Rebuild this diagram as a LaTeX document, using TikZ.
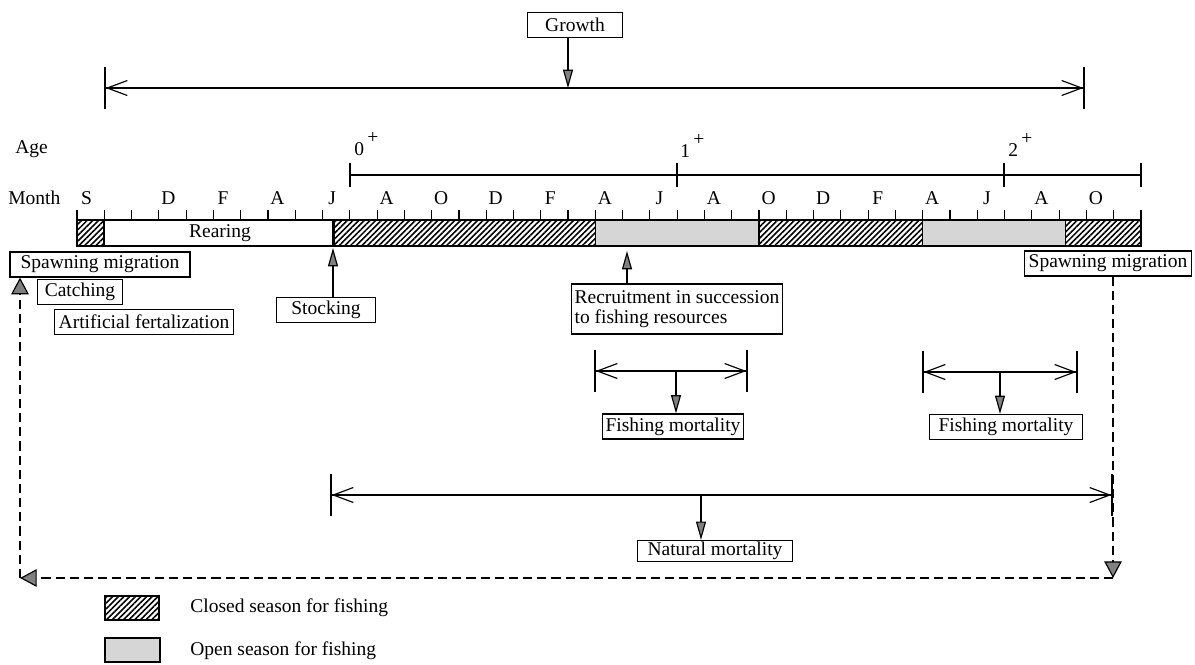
\documentclass[tikz,border=0pt]{standalone}
\usepackage{fontspec}
\setmainfont{Liberation Serif}
\usetikzlibrary{arrows.meta,patterns.meta}

\tikzset{
  lbl/.style={draw,line width=0.7pt,inner sep=2pt,minimum height=15pt},
  tri/.style={line width=0.7pt,-{Triangle[length=11pt,width=6pt,fill=black!50]}},
  bigtri/.style={-{Triangle[length=10pt,width=10.5pt,fill=black!50,line width=0.7pt]}},
  span/.style={line width=0.7pt,{Bar[width=25pt,line width=1pt]Straight Barb[length=12pt,width=9pt,line width=0.7pt]}-{Straight Barb[length=12pt,width=9pt,line width=0.7pt]Bar[width=25pt,line width=1pt]}},
  loopline/.style={line width=0.8pt,dash pattern=on 5.5pt off 3pt},
  closed/.style={pattern={Lines[angle=45,distance=2.4pt,line width=0.95pt]}},
  open/.style={fill=gray!32}
}

\begin{document}
\begin{tikzpicture}[x=0.6pt,y=-0.6pt,font=\fontsize{11.7}{12}\selectfont]

  \useasboundingbox (0,0) rectangle (1195,664);
  \def\m{27.28}

  \node[anchor=base west,inner sep=0] (age) at (15,153) {Age};
  \node[anchor=base west,inner sep=0] (month) at (8,204) {Month};

  \draw[line width=0.8pt] (350,175) -- (1141,175);
  \foreach \x in {350,677,1004,1141}
  {
    \draw[line width=0.8pt] (\x,163) -- (\x,187);
  }
  \node[anchor=base west,inner sep=0] (age0) at (354,155) {0\,\raisebox{7pt}{+}};
  \node[anchor=base west,inner sep=0] (age1) at (680,157) {1\,\raisebox{7pt}{+}};
  \node[anchor=base west,inner sep=0] (age2) at (1008,156) {2\,\raisebox{7pt}{+}};

  \foreach \i/\t in {0/S,3/D,5/F,7/A,9/J,11/A,13/O,15/D,17/F,19/A,21/J,23/A,25/O,27/D,29/F,31/A,33/J,35/A,37/O}
  {
    \node[anchor=base,inner sep=0] (m\i) at (77+\i*\m+0.35*\m,204) {\t};
  }
  \foreach \i in {0,...,39}
  {
    \draw[line width=0.7pt] (77+\i*\m,210) -- (77+\i*\m,220);
  }

  \foreach \a/\b in {0/1,9.4/19,25/31,36.25/39}
  {
    \fill[closed] (77+\a*\m,220) rectangle (77+\b*\m,246);
  }
  \foreach \a/\b in {19/25,31/36.25}
  {
    \fill[open] (77+\a*\m,220) rectangle (77+\b*\m,246);
  }
  \foreach \a in {19,25,31,36.25}
  {
    \draw[line width=0.7pt] (77+\a*\m,220) -- (77+\a*\m,246);
  }
  \draw[line width=1.3pt] (77,220) rectangle (1141,246);
  \draw[line width=1.3pt] (77+\m,220) rectangle (77+9.4*\m,246);
  \node (rearing) at (220,233) {Rearing};

  \node[lbl,minimum width=57pt] (growth) at (575,25) {Growth};
  \coordinate (gl) at (104,88);
  \coordinate (gr) at (1085,88);
  \coordinate (gm) at (568,88);
  \draw[span] (gl) -- (gr);
  \draw[tri] (gm |- growth.south) -- (gm);

  \node[lbl,minimum width=108pt] (spawnl) at (100,264.5) {Spawning migration};
  \node[lbl,minimum width=51pt] (catching) at (80,292) {Catching};
  \node[lbl,minimum width=107pt] (artif) at (144,322) {Artificial fertalization};
  \node[lbl,minimum width=59pt] (stock) at (326,310) {Stocking};
  \node[lbl,align=left,minimum width=125pt,minimum height=30pt] (recruit) at (677,309) {Recruitment in succession\\to fishing resources};
  \node[lbl,minimum width=100pt] (spawnr) at (1108,263.5) {Spawning migration};

  \coordinate (stockpt) at (333,248);
  \coordinate (recpt) at (627,251);
  \draw[tri] (stockpt |- stock.north) -- (stockpt);
  \draw[tri] (recpt |- recruit.north) -- (recpt);

  \coordinate (f1l) at (594,371);
  \coordinate (f1r) at (748,371);
  \coordinate (f1m) at (676,371);
  \node[lbl,minimum width=84pt] (fish1) at (673,426.5) {Fishing mortality};
  \draw[span] (f1l) -- (f1r);
  \draw[tri] (f1m) -- (f1m |- fish1.north);

  \coordinate (f2l) at (922,372);
  \coordinate (f2r) at (1078,372);
  \coordinate (f2m) at (1000,372);
  \node[lbl,minimum width=92pt] (fish2) at (1006,427) {Fishing mortality};
  \draw[span] (f2l) -- (f2r);
  \draw[tri] (f2m) -- (f2m |- fish2.north);

  \coordinate (nl) at (330,495);
  \coordinate (nr) at (1113,495);
  \coordinate (nm) at (701,495);
  \node[lbl,minimum width=93pt,minimum height=12pt,inner ysep=1pt] (natural) at (715,551) {Natural mortality};
  \draw[span] (nl) -- (nr);
  \draw[tri] (nm) -- (nm |- natural.north);

  \coordinate (cr) at (1113,578);
  \coordinate (cl) at (20,578);
  \draw[loopline,bigtri] (cr |- spawnr.south) -- (cr);
  \draw[loopline,bigtri] (cr) -- (cl);
  \draw[loopline,bigtri] (cl) -- (cl |- spawnl.south);

  \node[draw,line width=1.2pt,closed,minimum width=32pt,minimum height=14pt] (closedkey) at (132,608) {};
  \node[anchor=west,inner sep=0] (closedtxt) at (190,608) {Closed season for fishing};
  \node[draw,line width=1.2pt,open,minimum width=33pt,minimum height=14pt] (openkey) at (132,650) {};
  \node[anchor=west,inner sep=0] (opentxt) at (190,651) {Open season for fishing};

\end{tikzpicture}
\end{document}
